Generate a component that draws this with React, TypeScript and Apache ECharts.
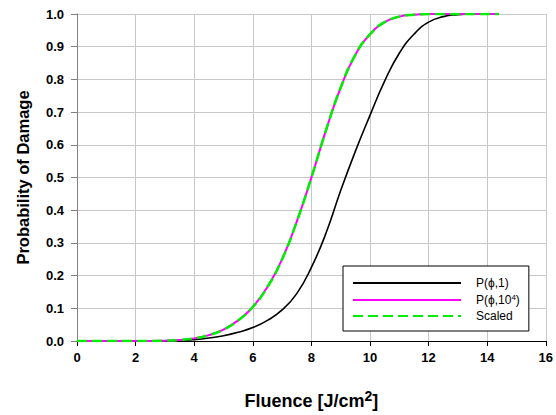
import React, { useEffect, useRef } from "react";
import * as echarts from "echarts";

// Fluence values (J/cm²) at which the damage probabilities are sampled
const fluence = [0, 1, 2, 3, 3.5, 4, 4.5, 5, 5.5, 6, 6.5, 7, 7.5, 8, 8.5, 9, 9.5, 10, 10.5, 11, 11.5, 12, 12.5, 13, 13.5, 14, 14.4];

// Single-shot damage probability P(ϕ,1)
const pSingle = [0, 0, 0, 0, 0.001, 0.004, 0.009, 0.016, 0.027, 0.041, 0.063, 0.095, 0.145, 0.225, 0.33, 0.46, 0.58, 0.69, 0.795, 0.88, 0.938, 0.975, 0.992, 0.998, 1, 1, 1];

// Damage probability after 10⁴ shots P(ϕ,10⁴)
const pMulti = [0, 0, 0, 0.001, 0.003, 0.008, 0.018, 0.035, 0.063, 0.104, 0.165, 0.25, 0.365, 0.5, 0.645, 0.775, 0.875, 0.938, 0.975, 0.992, 0.998, 1, 1, 1, 1, 1, 1];

// Single-shot curve scaled onto the multi-shot fluence axis
const pScaled = [0, 0, 0, 0.001, 0.003, 0.008, 0.018, 0.035, 0.063, 0.104, 0.165, 0.25, 0.365, 0.5, 0.645, 0.775, 0.875, 0.938, 0.975, 0.992, 0.998, 1, 1, 1, 1, 1, 1];

const seriesNames = ["P(ϕ,1)", "P(ϕ,10⁴)", "Scaled"];

const FONT = "'Liberation Sans', Arial, sans-serif";

const pairs = (ys: number[]) => fluence.map((x, i) => [x, ys[i]]);

export default function App() {
  const ref = useRef<HTMLDivElement>(null);

  useEffect(() => {
    if (!ref.current) return;
    const chart = echarts.init(ref.current, undefined, { renderer: "svg" });
    chart.setOption({
      animation: false,
      backgroundColor: "#ffffff",
      textStyle: { fontFamily: FONT },
      grid: { left: 77, right: 9, top: 14, bottom: 74, containLabel: false },
      xAxis: {
        type: "value",
        min: 0,
        max: 16,
        interval: 2,
        name: "Fluence [J/cm{sup|2}]",
        nameLocation: "middle",
        nameGap: 48,
        nameTextStyle: {
          fontFamily: FONT,
          fontSize: 18,
          fontWeight: "bold",
          color: "#000",
          rich: {
            sup: { fontFamily: FONT, fontSize: 14, fontWeight: "bold", color: "#000", verticalAlign: "top", lineHeight: 24 },
          },
        },
        axisLine: { show: true, onZero: false, lineStyle: { color: "#000", width: 1 } },
        axisTick: { show: true, inside: false, length: 5, lineStyle: { color: "#000" } },
        axisLabel: { margin: 10, fontFamily: FONT, fontSize: 13, fontWeight: "bold", color: "#000" },
        splitLine: { show: true, lineStyle: { color: "#c8c8c8", width: 1 } },
      },
      yAxis: {
        type: "value",
        min: 0,
        max: 1,
        interval: 0.1,
        name: "Probability of Damage",
        nameLocation: "middle",
        nameGap: 46,
        nameTextStyle: { fontFamily: FONT, fontSize: 16.5, fontWeight: "bold", color: "#000" },
        axisLine: { show: true, onZero: false, lineStyle: { color: "#808080", width: 1 } },
        axisTick: { show: true, inside: false, length: 6, lineStyle: { color: "#808080" } },
        axisLabel: {
          margin: 13,
          fontFamily: FONT,
          fontSize: 13,
          fontWeight: "bold",
          color: "#000",
          formatter: (v: number) => v.toFixed(1),
        },
        splitLine: { show: true, lineStyle: { color: "#c8c8c8", width: 1 } },
      },
      legend: {
        orient: "vertical",
        left: 343,
        top: 266,
        padding: [11, 9, 9, 9],
        itemWidth: 108,
        itemHeight: 14,
        itemGap: 4,
        borderColor: "#000",
        borderWidth: 1,
        backgroundColor: "#fff",
        itemStyle: { opacity: 0 },
        data: seriesNames,
        formatter: (name: string) => (name === seriesNames[1] ? "P(ϕ,10{sup|4})" : name),
        textStyle: {
          fontFamily: FONT,
          fontSize: 12,
          color: "#000",
          width: 62,
          padding: [0, 0, 0, 10],
          rich: {
            sup: { fontFamily: FONT, fontSize: 8, color: "#000", verticalAlign: "top", lineHeight: 14 },
          },
        },
      },
      series: [
        {
          name: seriesNames[0],
          type: "line",
          data: pairs(pSingle),
          smooth: 0.5,
          symbol: "none",
          lineStyle: { color: "#000000", width: 1.6 },
          itemStyle: { color: "#000000" },
          z: 2,
        },
        {
          name: seriesNames[1],
          type: "line",
          data: pairs(pMulti),
          smooth: 0.5,
          symbol: "none",
          lineStyle: { color: "#ff00ff", width: 2 },
          itemStyle: { color: "#ff00ff" },
          z: 3,
        },
        {
          name: seriesNames[2],
          type: "line",
          data: pairs(pScaled),
          smooth: 0.5,
          symbol: "none",
          lineStyle: { color: "#00ee00", width: 2.5, type: [10, 5] },
          itemStyle: { color: "#00ee00" },
          z: 4,
        },
      ],
    });
    return () => chart.dispose();
  }, []);

  return <div ref={ref} style={{ width: 556, height: 415, position: "absolute", left: 0, top: 0 }} />;
}
